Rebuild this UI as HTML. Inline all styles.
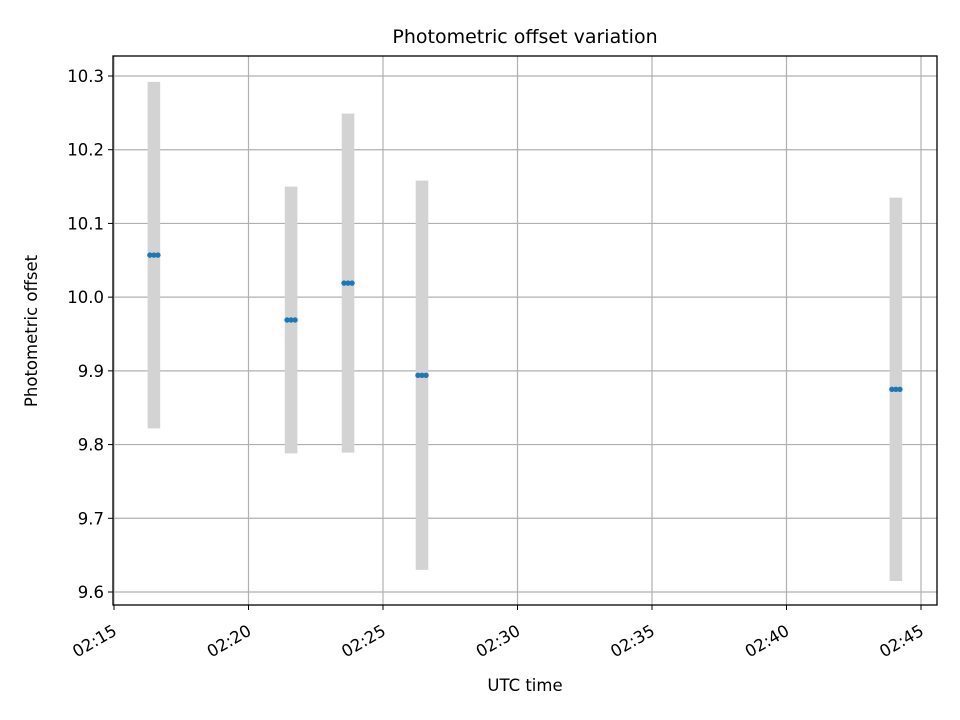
<!DOCTYPE html>
<html><head><meta charset="utf-8"><style>body{margin:0;background:#fff}svg{display:block;font-family:"DejaVu Sans","Liberation Sans",sans-serif}</style></head>
<body>
<svg id="chart" width="960" height="720" viewBox="0 0 960 720"></svg>
<script>
const times = [80, 89, 98, 386, 395, 404, 513, 522, 531, 678, 687, 696, 1735, 1744, 1753]; // seconds after 02:15
const values = [10.057,10.057,10.057, 9.969,9.969,9.969, 10.019,10.019,10.019, 9.894,9.894,9.894, 9.875,9.875,9.875];
const errors = [0.235,0.235,0.235, 0.181,0.181,0.181, 0.23,0.23,0.23, 0.264,0.264,0.264, 0.26,0.26,0.26];
const yTicks = [9.6, 9.7, 9.8, 9.9, 10.0, 10.1, 10.2, 10.3];
const xTicks = [0, 300, 600, 900, 1200, 1500, 1800];
const xTickLabels = ["02:15","02:20","02:25","02:30","02:35","02:40","02:45"];

const NS="http://www.w3.org/2000/svg", svg=document.getElementById('chart');
const L=113,R=937,T=56,B=605;
const xs=t=>114+t*(807/1800);
const ys=v=>592-(v-9.6)*(516/0.7);
function el(tag,attrs,parent){const e=document.createElementNS(NS,tag);for(const k in attrs)e.setAttribute(k,attrs[k]);(parent||svg).appendChild(e);return e;}
const title=el('text',{x:525,y:43,'text-anchor':'middle','font-size':19,fill:'#000'});title.textContent='Photometric offset variation';

const grid=el('g',{});
yTicks.forEach(v=>{const y=ys(v);
 el('line',{x1:L,x2:R,y1:y,y2:y,stroke:'#b0b0b0','stroke-width':1.2},grid);
 el('line',{x1:L-5,x2:L,y1:y,y2:y,stroke:'#000'});
 const t=el('text',{x:L-9,y:y+6,'text-anchor':'end','font-size':16.5});t.textContent=v.toFixed(1);
 });
xTicks.forEach((s,i)=>{const x=xs(s);
 el('line',{x1:x,x2:x,y1:T,y2:B,stroke:'#b0b0b0','stroke-width':1.2},grid);
 el('line',{x1:x,x2:x,y1:B,y2:B+5,stroke:'#000'});
 const t=el('text',{x:0,y:0,'text-anchor':'end','font-size':16.5,transform:`translate(${x+4},${B+29}) rotate(-30)`});t.textContent=xTickLabels[i];
 });
const eb=el('g',{});
times.forEach((s,i)=>{const x=xs(s);
 const l=el('line',{x1:x,x2:x,y1:ys(values[i]+errors[i]),y2:ys(values[i]-errors[i]),stroke:'#d3d3d3','stroke-width':4.5},eb);
 });
const pts=el('g',{});
times.forEach((s,i)=>{const c=el('circle',{cx:xs(s),cy:ys(values[i]),r:2.7,fill:'#1f77b4'},pts);
 });
const fr=el('rect',{x:L,y:T,width:R-L,height:B-T,fill:'none',stroke:'#000','stroke-width':1.3});

const xl=el('text',{x:525,y:691,'text-anchor':'middle','font-size':16.5});xl.textContent='UTC time';

const yl=el('text',{x:0,y:0,'text-anchor':'middle','font-size':16.5,transform:'translate(37,331) rotate(-90)'});yl.textContent='Photometric offset';

</script>
</body></html>
